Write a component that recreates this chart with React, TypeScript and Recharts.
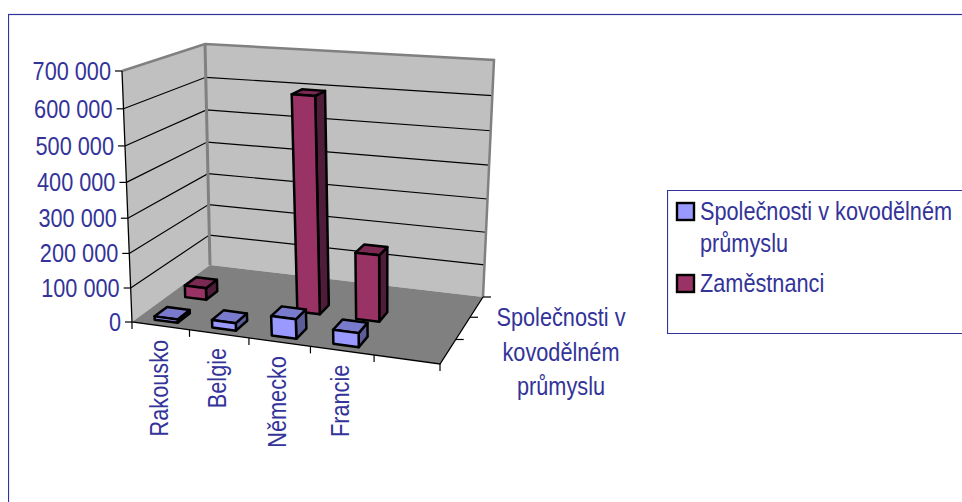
import { BarChart, Bar, XAxis, YAxis, Legend, Customized } from 'recharts';

const categories = ['Rakousko', 'Belgie', 'Německo', 'Francie', ''];
const companies = [10000, 22000, 56000, 40000, null];
const employees = [36000, null, 625000, 195000, null];
const yTicks = [0, 100000, 200000, 300000, 400000, 500000, 600000, 700000];
const companiesName = 'Společnosti v kovodělném průmyslu';
const employeesName = 'Zaměstnanci';
const companiesLines = ['Společnosti v kovodělném', 'průmyslu'];
const depthTitle = ['Společnosti v', 'kovodělném', 'průmyslu'];

const chartData = categories.map((name, i) => ({
  name,
  companies: companies[i],
  employees: employees[i],
}));

const WIDTH = 954;
const HEIGHT = 494;
const PLOT_LEFT = 124;
const PLOT_TOP = 63;
const PLOT_W = 308;
const PLOT_H = 251;
const BAR_SIZE = 27;
const INK = '#333399';
const TEXT_SCALE = 0.835;

type Pt = [number, number];

// square -> quad perspective map
function makeQuad(p0: Pt, p1: Pt, p2: Pt, p3: Pt) {
  const dx1 = p1[0] - p2[0];
  const dx2 = p3[0] - p2[0];
  const sx = p0[0] - p1[0] + p2[0] - p3[0];
  const dy1 = p1[1] - p2[1];
  const dy2 = p3[1] - p2[1];
  const sy = p0[1] - p1[1] + p2[1] - p3[1];
  const den = dx1 * dy2 - dx2 * dy1;
  const g = (sx * dy2 - dx2 * sy) / den;
  const h = (dx1 * sy - sx * dy1) / den;
  const a = p1[0] - p0[0] + g * p1[0];
  const b = p3[0] - p0[0] + h * p3[0];
  const d = p1[1] - p0[1] + g * p1[1];
  const e = p3[1] - p0[1] + h * p3[1];
  return (u: number, v: number): Pt => {
    const w = g * u + h * v + 1;
    return [(a * u + b * v + p0[0]) / w, (d * u + e * v + p0[1]) / w];
  };
}

// chart coordinates (page minus the 8px body margin)
const floor = makeQuad([124, 314], [432, 356], [475, 289], [202, 257]);
const ceiling = makeQuad([114, 63], [439, 87], [486, 52], [197, 36]);

function proj(u: number, v: number, f: number): Pt {
  const lo = floor(u, v);
  const hi = ceiling(u, v);
  const t = (0.94 * f) / (1 - 0.06 * f);
  return [lo[0] + (hi[0] - lo[0]) * t, lo[1] + (hi[1] - lo[1]) * t];
}

const toPath = (pts: Pt[]) => pts.map((p) => p.join(',')).join(' ');

function Label({ x, y, anchor, rotate = 0, children }: any) {
  return (
    <text
      transform={`translate(${x} ${y}) rotate(${rotate}) scale(${TEXT_SCALE} 1)`}
      textAnchor={anchor}
      fontFamily="'Liberation Sans', Arial, sans-serif"
      fontSize={26}
      fill={INK}
    >
      {children}
    </text>
  );
}

function Walls() {
  const bands = categories.map((_, i) => i / categories.length).concat(1);
  return (
    <g>
      <rect x={0.5} y={6.5} width={1100} height={1100} fill="none" stroke={INK} strokeWidth={1.2} />
      <polygon points={toPath([proj(0, 0, 0), proj(0, 1, 0), proj(0, 1, 1), proj(0, 0, 1)])} fill="#c0c0c0" />
      <polygon points={toPath([proj(0, 1, 0), proj(1, 1, 0), proj(1, 1, 1), proj(0, 1, 1)])} fill="#c0c0c0" />
      <polygon points={toPath([proj(0, 0, 0), proj(1, 0, 0), proj(1, 1, 0), proj(0, 1, 0)])} fill="#808080" />
      {yTicks.slice(1, -1).map((t) => {
        const f = t / yTicks[yTicks.length - 1];
        return (
          <polyline
            key={t}
            points={toPath([proj(0, 0, f), proj(0, 1, f), proj(1, 1, f)])}
            fill="none"
            stroke="#000"
            strokeWidth={1.2}
          />
        );
      })}
      <polyline
        points={toPath([proj(0, 0, 1), proj(0, 1, 1), proj(1, 1, 1), proj(1, 1, 0)])}
        fill="none"
        stroke="#808080"
        strokeWidth={2.5}
      />
      <line x1={proj(0, 1, 0)[0]} y1={proj(0, 1, 0)[1]} x2={proj(0, 1, 1)[0]} y2={proj(0, 1, 1)[1]} stroke="#808080" strokeWidth={3} />
      <polyline
        points={toPath([proj(0, 0, 1), proj(0, 0, 0), proj(1, 0, 0), proj(1, 1, 0)])}
        fill="none"
        stroke="#000"
        strokeWidth={1.3}
      />
      {bands.map((u) => {
        const p = proj(u, 0, 0);
        return <line key={u} x1={p[0]} y1={p[1]} x2={p[0]} y2={p[1] + 7} stroke="#000" strokeWidth={1.2} />;
      })}
      {[1 / 3, 2 / 3, 1].map((v) => {
        const p = proj(1, v, 0);
        return <line key={v} x1={p[0]} y1={p[1]} x2={p[0] + 8} y2={p[1]} stroke="#000" strokeWidth={1.2} />;
      })}
      {depthTitle.map((line, i) => (
        <Label key={line} x={553} y={318 + i * 34.5} anchor="middle">
          {line}
        </Label>
      ))}
    </g>
  );
}

function Box3D({ x, width, height, v0, v1, narrow = 1, colors }: any) {
  if (!height) return null;
  const inset = (width * (1 - narrow)) / 2;
  const u0 = (x + inset - PLOT_LEFT) / PLOT_W;
  const u1 = (x + width - inset - PLOT_LEFT) / PLOT_W;
  const f = height / PLOT_H;
  const stroke = { stroke: '#000', strokeWidth: 2.5, strokeLinejoin: 'round' as const };
  return (
    <g>
      <polygon points={toPath([proj(u1, v0, 0), proj(u1, v1, 0), proj(u1, v1, f), proj(u1, v0, f)])} fill={colors[2]} {...stroke} />
      <polygon points={toPath([proj(u0, v0, f), proj(u1, v0, f), proj(u1, v1, f), proj(u0, v1, f)])} fill={colors[1]} {...stroke} />
      <polygon points={toPath([proj(u0, v0, 0), proj(u1, v0, 0), proj(u1, v0, f), proj(u0, v0, f)])} fill={colors[0]} {...stroke} />
    </g>
  );
}

function ValueTick({ y, payload }: any) {
  const f = (PLOT_TOP + PLOT_H - y) / PLOT_H;
  const p = proj(0, 0, f);
  const text = payload.value === 0 ? '0' : String(payload.value).replace(/(\d{3})$/, ' $1');
  return (
    <g>
      <line x1={p[0] - 7} y1={p[1]} x2={p[0]} y2={p[1]} stroke="#000" strokeWidth={1.2} />
      <Label x={p[0] - 11} y={p[1] + 9} anchor="end">
        {text}
      </Label>
    </g>
  );
}

function CategoryTick({ x, payload }: any) {
  if (!payload.value) return null;
  const p = proj((x - PLOT_LEFT) / PLOT_W, 0, 0);
  return (
    <Label x={p[0] + 7} y={p[1] + 14} anchor="end" rotate={-90}>
      {payload.value}
    </Label>
  );
}

function LegendBox({ payload }: any) {
  const rows = (payload || []).map((item: any) => ({
    color: item.color,
    lines: item.value === companiesName ? companiesLines : [item.value],
  }));
  let baseline = 28;
  return (
    <svg width={295} height={144} style={{ display: 'block' }}>
      <path d="M295 0.5 H0.5 V143.5 H295" fill="none" stroke={INK} strokeWidth={1.2} />
      {rows.map((row: any) => {
        const top = baseline;
        baseline += row.lines.length * 32 + 8;
        return (
          <g key={row.lines[0]}>
            <rect x={10} y={top - 15} width={17} height={17} fill={row.color} stroke="#000" strokeWidth={2.4} />
            {row.lines.map((line: string, i: number) => (
              <Label key={line} x={33} y={top + 2 + i * 32} anchor="start">
                {line}
              </Label>
            ))}
          </g>
        );
      })}
    </svg>
  );
}

export default function App() {
  return (
    <div style={{ position: 'absolute', left: 8, top: 8, width: WIDTH, height: HEIGHT }}>
      <BarChart
        width={WIDTH}
        height={HEIGHT}
        data={chartData}
        margin={{ top: PLOT_TOP, right: WIDTH - PLOT_LEFT - PLOT_W, bottom: HEIGHT - PLOT_TOP - PLOT_H - 30, left: 0 }}
        barSize={BAR_SIZE}
        barGap={-BAR_SIZE}
      >
        <Customized component={Walls} />
        <XAxis dataKey="name" height={30} axisLine={false} tickLine={false} interval={0} tick={<CategoryTick />} />
        <YAxis
          width={PLOT_LEFT}
          domain={[0, 700000]}
          ticks={yTicks}
          axisLine={false}
          tickLine={false}
          interval={0}
          tick={<ValueTick />}
        />
        <Legend
          layout="vertical"
          align="center"
          verticalAlign="middle"
          wrapperStyle={{ left: 659, top: 182, width: 295, height: 144 }}
          content={<LegendBox />}
        />
        <Bar
          dataKey="employees"
          name={employeesName}
          fill="#993366"
          isAnimationActive={false}
          shape={<Box3D v0={0.44} v1={0.59} narrow={0.88} colors={['#993366', '#7a2952', '#4f1c3a']} />}
        />
        <Bar
          dataKey="companies"
          name={companiesName}
          fill="#9999ff"
          isAnimationActive={false}
          shape={<Box3D v0={0.07} v1={0.22} narrow={0.92} colors={['#9999ff', '#7a7acc', '#5c5c99']} />}
        />
      </BarChart>
    </div>
  );
}
